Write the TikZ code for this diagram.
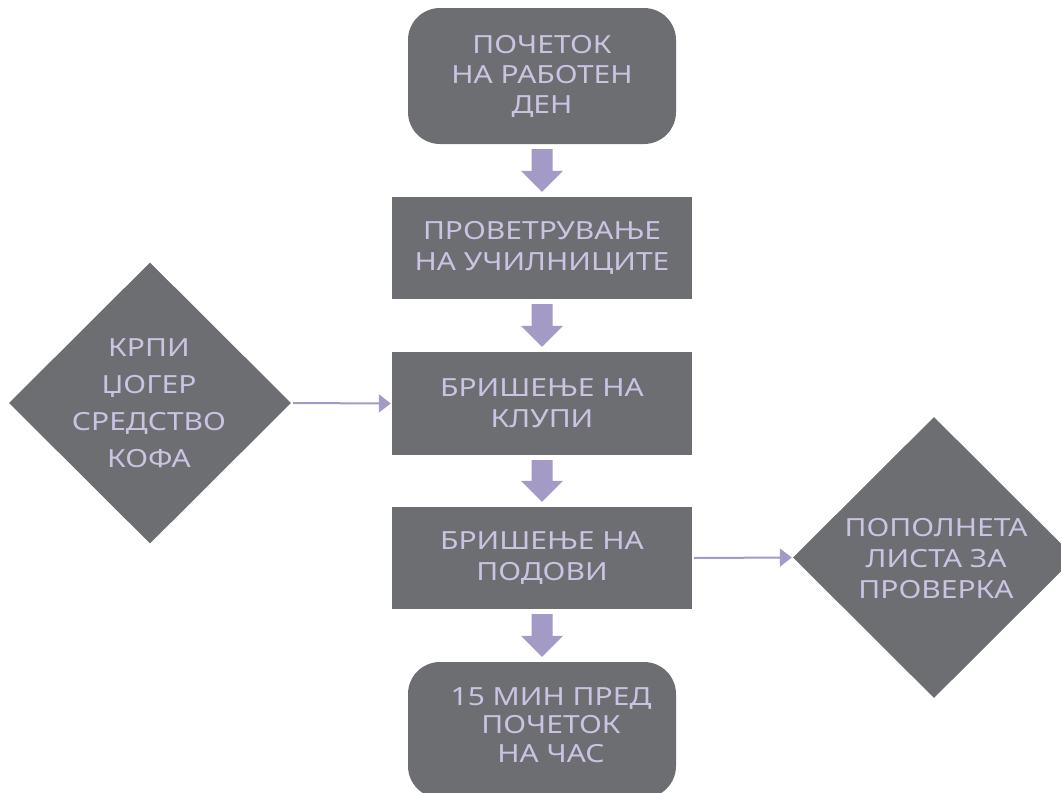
\documentclass[tikz,border=0pt]{standalone}
\usepackage{fontspec}
\setmainfont{Noto Sans}[FakeStretch=1.2]
\usetikzlibrary{shapes.geometric,arrows.meta,calc}
\definecolor{boxgray}{RGB}{109,110,113}
\definecolor{txtlav}{RGB}{203,195,226}
\definecolor{arrlav}{RGB}{163,154,198}
\tikzset{
  boxstyle/.style={fill=boxgray, draw=none, minimum width=300pt, minimum height=102pt, inner sep=0pt},
  roundbox/.style={fill=boxgray, draw=none, rounded corners=32pt, minimum width=268pt, minimum height=136pt, inner sep=0pt},
  dia/.style={diamond, fill=boxgray, draw=none, inner sep=0pt, minimum width=282pt, minimum height=281pt},
  lbl/.style={text=txtlav, align=center, font=\fontsize{25}{31}\selectfont, inner sep=0pt},
  thinarrow/.style={draw=arrlav, line width=2pt, -{Triangle[length=12pt,width=18pt]}, shorten <=2pt, shorten >=1pt},
}
\newcommand{\blockarr}[2]{%
  \fill[arrlav] let \p1=(#1.south), \p2=(#2.north) in
    (\x1-10.5pt,\y1-5pt) -- (\x1+10.5pt,\y1-5pt) -- (\x1+10.5pt,\y2+26pt) -- (\x1+21pt,\y2+26pt)
    -- (\x1,\y2+5pt) -- (\x1-21pt,\y2+26pt) -- (\x1-10.5pt,\y2+26pt) -- cycle;}
\begin{document}
\begin{tikzpicture}[x=1pt,y=-1pt]
\useasboundingbox (0,0) rectangle (1061,793);
\clip (0,0) rectangle (1061,793);
% main column
\node[roundbox, lbl, font=\fontsize{25}{30}\selectfont] (start) at (542,76) {ПОЧЕТОК\\НА РАБОТЕН\\ДЕН};
\node[boxstyle, lbl] (air) at (542,248) {ПРОВЕТРУВАЊЕ\\НА УЧИЛНИЦИТЕ};
\node[boxstyle, lbl, minimum height=103pt] (desks) at (542,403.5) {БРИШЕЊЕ НА\\КЛУПИ};
\node[boxstyle, lbl] (floors) at (542,558) {БРИШЕЊЕ НА\\ПОДОВИ};
\node[roundbox] (end) at (542,730) {};
\node[lbl, font=\fontsize{25}{28.5}\selectfont] (endt) at (551,725) {15 МИН ПРЕД\\ПОЧЕТОК\\НА ЧАС};
% diamonds
\node[dia] (tools) at (150,403) {};
\node[lbl, font=\fontsize{25}{37}\selectfont] (toolst) at (149,403.5) {КРПИ\\ЏОГЕР\\СРЕДСТВО\\КОФА};
\node[dia] (check) at (934,557.5) {};
\node[lbl] (checkt) at (936,559) {ПОПОЛНЕТА\\ЛИСТА ЗА\\ПРОВЕРКА};
% block arrows
\blockarr{start}{air}
\blockarr{air}{desks}
\blockarr{desks}{floors}
\blockarr{floors}{end}
% thin arrows
\draw[thinarrow] (tools.east) -- (desks.west);
\draw[thinarrow] (floors.east) -- (check.west);
\end{tikzpicture}
\end{document}
